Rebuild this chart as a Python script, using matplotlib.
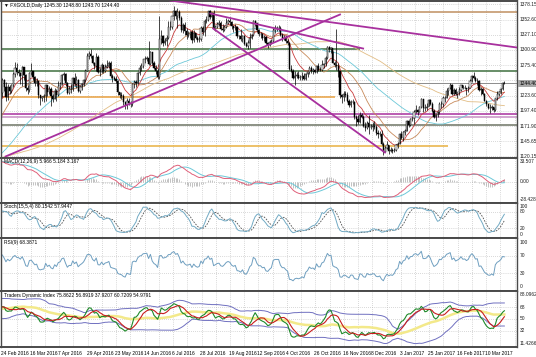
import numpy as np
import pandas as pd
import matplotlib
matplotlib.use("Agg")
import matplotlib.pyplot as plt
from matplotlib.transforms import blended_transform_factory

plt.rcParams["font.family"] = ["Liberation Sans", "DejaVu Sans"]

# ---------------- data ----------------
# closes before the visible window (indicator warm-up, Oct 2015 - 23 Feb 2016)
hist_close = [1114, 1137, 1137, 1146, 1146, 1143, 1156, 1163, 1166, 1187, 1186, 1176, 1172, 1176, 1166, 1166, 1162,
              1164, 1167, 1156, 1147, 1142,
              1134, 1115, 1105, 1104, 1088, 1092, 1088, 1084, 1082, 1081, 1085, 1071, 1068, 1078, 1076, 1068, 1074,
              1070, 1071, 1057, 1064,
              1053, 1051, 1061, 1085, 1075, 1074, 1075, 1071, 1076, 1062, 1063, 1077, 1049, 1066, 1077, 1073, 1069,
              1075, 1069, 1067, 1060, 1061,
              1075, 1078, 1091, 1108, 1098, 1097, 1086, 1086, 1073, 1089, 1088, 1088, 1106, 1098, 1097, 1108, 1117,
              1125, 1115, 1117,
              1128, 1128, 1141, 1157, 1173, 1198, 1197, 1194, 1247, 1239, 1208, 1208, 1210, 1227, 1230, 1209, 1228]

close = [1250, 1238, 1221, 1238,
         1231, 1241, 1260, 1270, 1263, 1262, 1257, 1272, 1259, 1236, 1233, 1262, 1265, 1255, 1245, 1248, 1224, 1219,
         1221, 1222, 1242, 1229, 1234,
         1222, 1218, 1232, 1225, 1240, 1243, 1258, 1261, 1245, 1228, 1235, 1234, 1253, 1243, 1250, 1231, 1238, 1243,
         1250, 1266, 1291,
         1294, 1291, 1279, 1274, 1289, 1264, 1263, 1275, 1265, 1272, 1274, 1278, 1257, 1254, 1252, 1249, 1229, 1225,
         1222, 1212, 1207, 1215,
         1211, 1209, 1243, 1247, 1245, 1262, 1271, 1274, 1285, 1286, 1288, 1277, 1298, 1279, 1270, 1266, 1255, 1320,
         1324, 1313, 1317, 1322,
         1340, 1340, 1358, 1367, 1359, 1366, 1355, 1334, 1344, 1333, 1327, 1328, 1331, 1318, 1330, 1322, 1318, 1320,
         1339, 1331, 1350,
         1352, 1367, 1357, 1363, 1336, 1340, 1345, 1346, 1337, 1335, 1340, 1347, 1350, 1348, 1341, 1338, 1340, 1325,
         1324, 1320, 1324, 1311, 1308,
         1313, 1322, 1326, 1350, 1347, 1335, 1328, 1328, 1322, 1323, 1312, 1310, 1314, 1317, 1335, 1338, 1338, 1338,
         1327, 1321, 1321, 1316,
         1312, 1269, 1266, 1253, 1257, 1258, 1254, 1255, 1257, 1251, 1260, 1263, 1270, 1266, 1267, 1263, 1274, 1267,
         1267, 1275, 1277,
         1288, 1306, 1302, 1304, 1279, 1275, 1273, 1266, 1224, 1221, 1226, 1225, 1215, 1207, 1213, 1212, 1188, 1183,
         1179, 1191, 1188, 1172,
         1169, 1177, 1171, 1170, 1172, 1171, 1160, 1158, 1159, 1141, 1127, 1134, 1139, 1130, 1132, 1129, 1132, 1139,
         1141, 1158, 1151,
         1161, 1164, 1181, 1173, 1184, 1185, 1196, 1199, 1196, 1204, 1218, 1202, 1202, 1205, 1216, 1210, 1198, 1187,
         1190, 1195, 1210,
         1209, 1219, 1220, 1232, 1236, 1241, 1227, 1233, 1226, 1229, 1233, 1241, 1236, 1237, 1234, 1237, 1249, 1257,
         1254, 1248,
         1249, 1233, 1234, 1226, 1215, 1209, 1203, 1202, 1204, 1199, 1219, 1226, 1229, 1234, 1245, 1244.4]

high = [1253, 1251, 1247, 1243,
        1242, 1244, 1263, 1280, 1278, 1268, 1264, 1274, 1272, 1260, 1241, 1264, 1278, 1266, 1257, 1253, 1249, 1225,
        1223, 1226, 1244, 1242, 1240,
        1238, 1226, 1236, 1235, 1248, 1247, 1260, 1263, 1262, 1246, 1239, 1244, 1255, 1262, 1257, 1251, 1239, 1245,
        1252, 1268, 1296,
        1299, 1303, 1293, 1281, 1295, 1292, 1270, 1278, 1276, 1277, 1284, 1283, 1282, 1260, 1256, 1256, 1250, 1230,
        1230, 1227, 1213, 1219,
        1220, 1214, 1245, 1250, 1250, 1264, 1275, 1278, 1286, 1291, 1290, 1316, 1300, 1294, 1282, 1276, 1270, 1358,
        1335, 1326, 1322, 1326,
        1350, 1350, 1359, 1375, 1368, 1372, 1369, 1358, 1347, 1348, 1338, 1333, 1333, 1334, 1334, 1330, 1324, 1324,
        1341, 1342, 1354,
        1358, 1367, 1368, 1366, 1368, 1343, 1349, 1352, 1350, 1345, 1343, 1356, 1354, 1357, 1350, 1342, 1345, 1341,
        1327, 1336, 1326, 1326, 1314,
        1318, 1330, 1328, 1352, 1352, 1347, 1337, 1332, 1329, 1327, 1325, 1314, 1318, 1320, 1338, 1344, 1342, 1344,
        1341, 1330, 1326, 1326,
        1320, 1314, 1276, 1268, 1265, 1263, 1266, 1259, 1264, 1262, 1262, 1264, 1273, 1274, 1271, 1268, 1276, 1278,
        1272, 1284, 1279,
        1290, 1308, 1307, 1306, 1300, 1283, 1337, 1278, 1265, 1227, 1231, 1232, 1230, 1217, 1216, 1217, 1214, 1190,
        1190, 1195, 1194, 1191,
        1179, 1180, 1190, 1176, 1179, 1180, 1173, 1165, 1164, 1165, 1145, 1138, 1146, 1139, 1136, 1134, 1135, 1142,
        1145, 1160, 1163,
        1163, 1166, 1182, 1182, 1185, 1188, 1199, 1207, 1201, 1206, 1219, 1217, 1209, 1211, 1218, 1218, 1212, 1200,
        1193, 1197, 1212,
        1214, 1222, 1223, 1236, 1237, 1245, 1243, 1236, 1236, 1230, 1238, 1242, 1242, 1241, 1237, 1240, 1251, 1258,
        1264, 1257,
        1254, 1250, 1238, 1236, 1228, 1216, 1209, 1209, 1207, 1205, 1220, 1231, 1231, 1236, 1247, 1248.8]

low = [1221, 1232, 1215, 1216,
       1226, 1228, 1238, 1255, 1259, 1256, 1244, 1239, 1250, 1232, 1226, 1229, 1259, 1250, 1239, 1239, 1219, 1208,
       1215, 1212, 1215, 1223, 1226,
       1206, 1212, 1217, 1214, 1223, 1235, 1242, 1250, 1240, 1226, 1226, 1228, 1231, 1240, 1236, 1229, 1228, 1233,
       1240, 1247, 1265,
       1285, 1287, 1277, 1268, 1265, 1262, 1257, 1262, 1262, 1263, 1270, 1271, 1254, 1246, 1250, 1245, 1225, 1220,
       1217, 1208, 1201, 1200,
       1208, 1205, 1206, 1236, 1238, 1243, 1258, 1266, 1270, 1279, 1282, 1275, 1276, 1276, 1268, 1260, 1251, 1252,
       1311, 1307, 1310, 1307,
       1320, 1335, 1336, 1351, 1353, 1338, 1352, 1332, 1330, 1326, 1320, 1323, 1321, 1312, 1314, 1320, 1314, 1314,
       1316, 1327, 1324,
       1347, 1350, 1353, 1350, 1335, 1333, 1338, 1341, 1335, 1332, 1333, 1338, 1345, 1344, 1337, 1332, 1334, 1322,
       1320, 1316, 1315, 1310, 1306,
       1302, 1305, 1320, 1324, 1341, 1332, 1324, 1322, 1318, 1317, 1311, 1305, 1308, 1311, 1314, 1330, 1333, 1333,
       1325, 1317, 1318, 1313,
       1310, 1267, 1263, 1251, 1241, 1253, 1251, 1250, 1250, 1250, 1250, 1255, 1260, 1262, 1260, 1262, 1262, 1266,
       1265, 1266, 1270,
       1274, 1286, 1298, 1296, 1278, 1272, 1267, 1255, 1220, 1211, 1214, 1221, 1213, 1204, 1205, 1209, 1184, 1172,
       1175, 1177, 1185, 1170,
       1164, 1166, 1158, 1166, 1164, 1166, 1157, 1152, 1155, 1140, 1122, 1127, 1133, 1124, 1128, 1126, 1128, 1130,
       1135, 1141, 1149,
       1147, 1157, 1163, 1170, 1172, 1181, 1176, 1194, 1191, 1196, 1203, 1196, 1198, 1199, 1206, 1208, 1196, 1186,
       1180, 1187, 1193,
       1203, 1205, 1212, 1219, 1225, 1234, 1225, 1224, 1225, 1219, 1225, 1232, 1234, 1234, 1225, 1229, 1236, 1247,
       1252, 1247,
       1242, 1231, 1225, 1224, 1214, 1206, 1200, 1194, 1199, 1196, 1198, 1216, 1222, 1227, 1233, 1243.7]

date_labels = ["24 Feb 2016", "16 Mar 2016", "7 Apr 2016", "29 Apr 2016", "23 May 2016", "14 Jun 2016",
               "6 Jul 2016", "28 Jul 2016", "19 Aug 2016", "12 Sep 2016", "4 Oct 2016", "26 Oct 2016",
               "16 Nov 2016", "8 Dec 2016", "3 Jan 2017", "25 Jan 2017", "16 Feb 2017", "10 Mar 2017"]

price_levels = [1378.15, 1352.60, 1327.10, 1300.90, 1275.40, 1249.85, 1223.60, 1197.40, 1171.90, 1145.65, 1120.15]
last_price = 1244.40

# horizontal support / resistance lines: price, last bar reached, colour
hl_price = [1366.2, 1303.4, 1266.1, 1220.3, 1193.1, 1188.0, 1172.8, 1138.8]
hl_end = [285, 198, 285, 184, 285, 285, 285, 247]
hl_color = ["#c09060", "#3f6f3f", "#3f6f3f", "#e8a040", "#a8309e", "#c890c4", "#6d7465", "#e8b040"]

# trend lines: (bar0, price0, bar1, price1)
trend_lines = [(93, 1384.9, 285, 1305.1),
               (115.2, 1362.8, 199.8, 1303.4),
               (116.8, 1337.4, 211.9, 1126.9),
               (1.8, 1120.2, 187, 1361.1)]

title_main = "\u25bc FXGOLD,Daily 1245.30 1248.80 1243.70 1244.40"
title_macd = "MACD(12,26,9) 5.966 5.184 3.167"
title_stoch = "Stoch(15,5,4) 80.1542 57.9447"
title_rsi = "RSI(9) 68.3871"
title_tdi = "Traders Dynamic Index 75.8622 56.8919 37.9207 60.7209 54.9791"

# ---------------- indicators ----------------
H = len(hist_close)
n = len(close)
xb = np.arange(n)
c_all = pd.Series(hist_close + close, dtype=float)
h_all = pd.Series(hist_close + high, dtype=float)
l_all = pd.Series(hist_close + low, dtype=float)
opn = np.array([hist_close[-1]] + close[:-1], dtype=float)
cl = np.array(close, dtype=float)
hi = np.array(high, dtype=float)
lo = np.array(low, dtype=float)

ema10 = c_all.ewm(span=10, adjust=False).mean().values[H:]
sma20 = c_all.rolling(20).mean().values[H:]
sma50 = c_all.rolling(50).mean().values[H:]
sma100 = c_all.rolling(100, min_periods=60).mean().values[H:]

macd_all = c_all.ewm(span=12, adjust=False).mean() - c_all.ewm(span=26, adjust=False).mean()
sig_all = macd_all.rolling(9).mean()
macd = macd_all.values[H:]
sig = sig_all.values[H:]
osma = (macd_all - sig_all).values[H:]

ll = l_all.rolling(15).min()
hh = h_all.rolling(15).max()
k = (c_all - ll).rolling(4).sum() / (hh - ll).rolling(4).sum() * 100
d = k.rolling(5).mean()
stk = k.values[H:]
std_ = d.values[H:]


def rsi(s, p):
    delta = s.diff()
    up = delta.clip(lower=0).ewm(alpha=1 / p, adjust=False).mean()
    dn = (-delta.clip(upper=0)).ewm(alpha=1 / p, adjust=False).mean()
    return 100 - 100 / (1 + up / dn)


rsi9 = rsi(c_all, 9).values[H:]
r13 = rsi(c_all, 13)
tdi_green = r13.rolling(2).mean().values[H:]
tdi_red = r13.rolling(7).mean().values[H:]
base = r13.rolling(34).mean()
sd = r13.rolling(34).std(ddof=0)
tdi_yel = base.values[H:]
tdi_up = (base + 1.6185 * sd).values[H:]
tdi_dn = (base - 1.6185 * sd).values[H:]

# ---------------- layout ----------------
W, Hpx = 536, 357
fig = plt.figure(figsize=(W / 100, Hpx / 100), dpi=100)
fig.patch.set_facecolor("white")
PLOT_R = 517
XL = (-1, 285)
FS = 3.5
GRID = dict(color="#b4b4b4", lw=0.5, ls=(0, (1, 2)))
SEP = "#4a4a4a"


def add_ax(top, bottom):
    ax = fig.add_axes([0.5 / W, 1 - bottom / Hpx, (PLOT_R - 0.5) / W, (bottom - top) / Hpx])
    ax.set_xlim(*XL)
    ax.set_xticks([])
    ax.set_yticks([])
    for s in ax.spines.values():
        s.set_color(SEP)
        s.set_linewidth(1.0)
    ax.spines["top"].set_linewidth(1.4)
    ax.spines["bottom"].set_linewidth(1.4)
    step = 15.76 / 2
    for gx in np.arange(step, XL[1], step):
        ax.axvline(gx, zorder=0, **GRID)
    return ax


def rlabel(ax, val, txt):
    tr = blended_transform_factory(ax.transAxes, ax.transData)
    ax.text(1.005, val, txt, transform=tr, fontsize=FS, va="center", ha="left", color="#202020", clip_on=False)


# ---------- main price panel ----------
ax = add_ax(0.5, 157.5)
ax.set_ylim(1118.45, 1384.9)
for p in price_levels:
    ax.axhline(p, zorder=0, **GRID)
    if abs(p - last_price) > 8:
        rlabel(ax, p, f"{p:.2f}")
for p, e, col in zip(hl_price, hl_end, hl_color):
    ax.plot([XL[0], e], [p, p], color=col, lw=1.1, zorder=1, solid_capstyle="butt")
ax.axhline(last_price, color="#8c8c8c", lw=0.7, zorder=1)
ax.plot(xb, sma100, color="#e2bd85", lw=0.6, zorder=2)
ax.plot(xb, sma50, color="#6cc8d8", lw=0.6, zorder=2)
ax.plot(xb, sma20, color="#c88a5a", lw=0.6, zorder=2)
ax.plot(xb, ema10, color="#c83c3c", lw=0.6, zorder=2)
ax.vlines(xb, lo, hi, color="black", lw=0.5, zorder=3)
bull = cl >= opn
ax.bar(xb[bull], (cl - opn)[bull], bottom=opn[bull], width=0.65, color="white", edgecolor="black", lw=0.35, zorder=4)
ax.bar(xb[~bull], (cl - opn)[~bull], bottom=opn[~bull], width=0.65, color="black", edgecolor="black", lw=0.35,
       zorder=4)
for (b0, p0, b1, p1) in trend_lines:
    ax.plot([b0, b1], [p0, p1], color="#a8309e", lw=1.3, zorder=5)
tr = blended_transform_factory(ax.transAxes, ax.transData)
ax.text(1.005, last_price, f"{last_price:.2f}", transform=tr, fontsize=FS, va="center", ha="left", color="black",
        clip_on=False, bbox=dict(facecolor="#a8a8a8", edgecolor="none", pad=0.9), zorder=10)
ax.text(0.006, 0.985, title_main, transform=ax.transAxes, fontsize=FS, va="top", ha="left", color="black")

# ---------- MACD ----------
ax = add_ax(157.5, 203)
ax.set_ylim(-35.0, 40.0)
ax.axhline(0, zorder=0, **GRID)
ax.vlines(xb, 0, osma, color="#b8b8b8", lw=0.6, zorder=1)
ax.plot(xb, sig, color="#6cc8d8", lw=0.7, zorder=2)
ax.plot(xb, macd, color="#e0607a", lw=0.7, zorder=3)
for v, t in [(33.507, "33.507"), (0, "0.00"), (-28.428, "-28.428")]:
    rlabel(ax, v, t)
ax.text(0.006, 0.97, title_macd, transform=ax.transAxes, fontsize=FS, va="top", ha="left")

# ---------- Stochastic ----------
ax = add_ax(203, 238)
ax.set_ylim(-14, 111)
for v in (80, 20):
    ax.axhline(v, zorder=0, **GRID)
ax.plot(xb, std_, color="#505050", lw=0.6, ls=(0, (2, 1.5)), zorder=2)
ax.plot(xb, stk, color="#72aac4", lw=0.7, zorder=3)
for v in (100, 80, 20, 0):
    rlabel(ax, v, str(v))
ax.text(0.006, 0.96, title_stoch, transform=ax.transAxes, fontsize=FS, va="top", ha="left")

# ---------- RSI ----------
ax = add_ax(238, 291)
ax.set_ylim(-9, 109)
for v in (70, 30):
    ax.axhline(v, zorder=0, **GRID)
ax.plot(xb, rsi9, color="#6f9fc0", lw=0.7, zorder=2)
for v in (100, 70, 30, 0):
    rlabel(ax, v, str(v))
ax.text(0.006, 0.97, title_rsi, transform=ax.transAxes, fontsize=FS, va="top", ha="left")

# ---------- TDI ----------
ax = add_ax(291, 347)
ax.set_ylim(6.7, 92.8)
for v in (68, 50, 32):
    ax.axhline(v, zorder=0, **GRID)
ax.plot(xb, tdi_yel, color="#f3e98a", lw=1.8, zorder=2)
ax.plot(xb, tdi_up, color="#7070c0", lw=0.7, zorder=2)
ax.plot(xb, tdi_dn, color="#7070c0", lw=0.7, zorder=2)
ax.plot(xb, tdi_green, color="#1f8a2a", lw=0.8, zorder=3)
ax.plot(xb, tdi_red, color="#c81e1e", lw=0.8, zorder=4)
for v, t in [(88.0962, "88.0962"), (68, "68"), (50, "50"), (32, "32"), (11.4266, "11.4266")]:
    rlabel(ax, v, t)
ax.text(0.006, 0.97, title_tdi, transform=ax.transAxes, fontsize=FS, va="top", ha="left")
trx = blended_transform_factory(ax.transData, ax.transAxes)
for i, lab in enumerate(date_labels):
    ax.text(i * 15.76 - 0.6, -0.07, lab, transform=trx, fontsize=FS, va="top", ha="left", clip_on=False)

fig.savefig("out.png", dpi=100, facecolor="white")
